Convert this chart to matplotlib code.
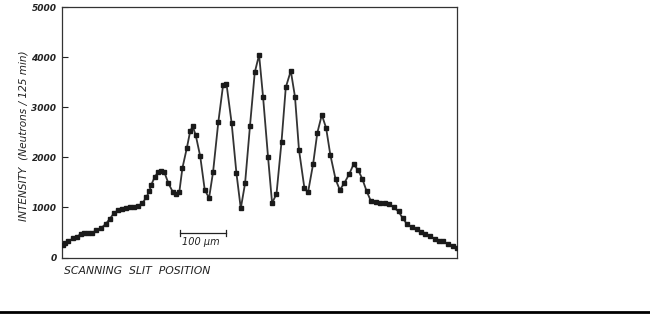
import matplotlib
matplotlib.use("Agg")
import matplotlib.pyplot as plt
from matplotlib.lines import Line2D

# Scanning slit position (micrometres) and measured intensity (neutrons / 125 min)
position_um = [2, 6, 13.5, 23.3, 32, 40.7, 47.2, 55.9, 64.6, 74.3, 85.2, 95, 103.7, 112.4,
               121.1, 129.8, 138.5, 147.2, 155.9, 164.6, 174.3, 183, 189.6, 193.9, 201.5,
               209.1, 214.6, 222.2, 230.9, 240.7, 248.3, 254.8, 261.7, 271.1, 278.7, 284.1,
               290.7, 300.4, 310.2, 319.6, 328.3, 339.6, 350, 357.4, 368.7, 379.1, 388.5,
               397.8, 408.5, 418.9, 428.3, 437, 447.8, 456.5, 466.1, 477, 486.3, 497.2,
               506.3, 515, 526.7, 534.6, 545.7, 554.8, 564.6, 573.9, 583.1, 594.6, 603.7,
               613.7, 623.7, 633.5, 643.5, 652.6, 661.8, 671.1, 681.6, 691.8, 701.6, 711.3,
               720.7, 731.3, 740, 749.4, 759.6, 770.5, 780.3, 789.6, 799.4, 810.3, 819.6,
               828.3, 839.2, 849.4, 858.1]
intensity = [250, 280, 320, 380, 410, 470, 490, 480, 490, 540, 590, 670, 770, 880,
             940, 960, 980, 1000, 1010, 1030, 1080, 1200, 1320, 1450, 1610,
             1710, 1720, 1710, 1490, 1310, 1270, 1300, 1790, 2180, 2530, 2620,
             2440, 2020, 1350, 1190, 1710, 2700, 3440, 3470, 2680, 1680, 980,
             1480, 2630, 3700, 4050, 3200, 2000, 1090, 1270, 2310, 3400, 3730,
             3210, 2150, 1390, 1300, 1870, 2490, 2850, 2590, 2050, 1560, 1350,
             1490, 1660, 1860, 1750, 1570, 1330, 1130, 1100, 1090, 1090, 1070,
             1000, 920, 790, 670, 610, 560, 510, 470, 430, 370, 330,
             320, 260, 220, 180]

y_ticks = [0, 1000, 2000, 3000, 4000, 5000]
y_tick_labels = ["0", "1000", "2000", "3000", "4000", "5000"]
scale_bar_um = [256, 356]
scale_bar_label = "100 \u03bcm"
y_label = "INTENSITY  (Neutrons / 125 min)"
x_label = "SCANNING  SLIT  POSITION"

ink = "#222222"

fig = plt.figure(figsize=(6.5, 3.15), dpi=100)
ax = fig.add_axes([62 / 650, 1 - 257.5 / 315, (457.3 - 62) / 650, (257.5 - 7.3) / 315])

ax.plot(position_um, intensity, color="#333333", lw=1.3, zorder=2)
ax.plot(position_um, intensity, ls="none", marker="s", ms=2.7, color="#1a1a1a", zorder=3)

ax.set_xlim(0, 859)
ax.set_ylim(0, 5000)
ax.set_xticks([])
ax.set_yticks(y_ticks)
ax.set_yticklabels(y_tick_labels, fontsize=6.5, fontstyle="italic", fontweight="bold", color=ink)
ax.tick_params(axis="y", direction="in", length=4, width=0.8, color=ink, pad=4)
for s in ax.spines.values():
    s.set_color("#333333")
    s.set_linewidth(0.9)

# scale bar
sb_y = 490
ax.plot(scale_bar_um, [sb_y, sb_y], color=ink, lw=0.9)
for xv in scale_bar_um:
    ax.plot([xv, xv], [sb_y - 60, sb_y + 60], color=ink, lw=0.9)
ax.text(sum(scale_bar_um) / 2 - 5, sb_y - 80, scale_bar_label, ha="center", va="top",
        fontsize=7, fontstyle="italic", color=ink)

fig.text(24 / 650, 1 - 136 / 315, y_label, rotation=90, ha="center", va="center",
         fontsize=7.6, fontstyle="italic", color=ink)
fig.text(64 / 650, 1 - 271 / 315, x_label, ha="left", va="center",
         fontsize=7.8, fontstyle="italic", color=ink)

fig.add_artist(Line2D([0, 1], [1 - 312 / 315, 1 - 312 / 315], transform=fig.transFigure,
                      color="black", lw=2))

fig.savefig("out.png", dpi=100)
